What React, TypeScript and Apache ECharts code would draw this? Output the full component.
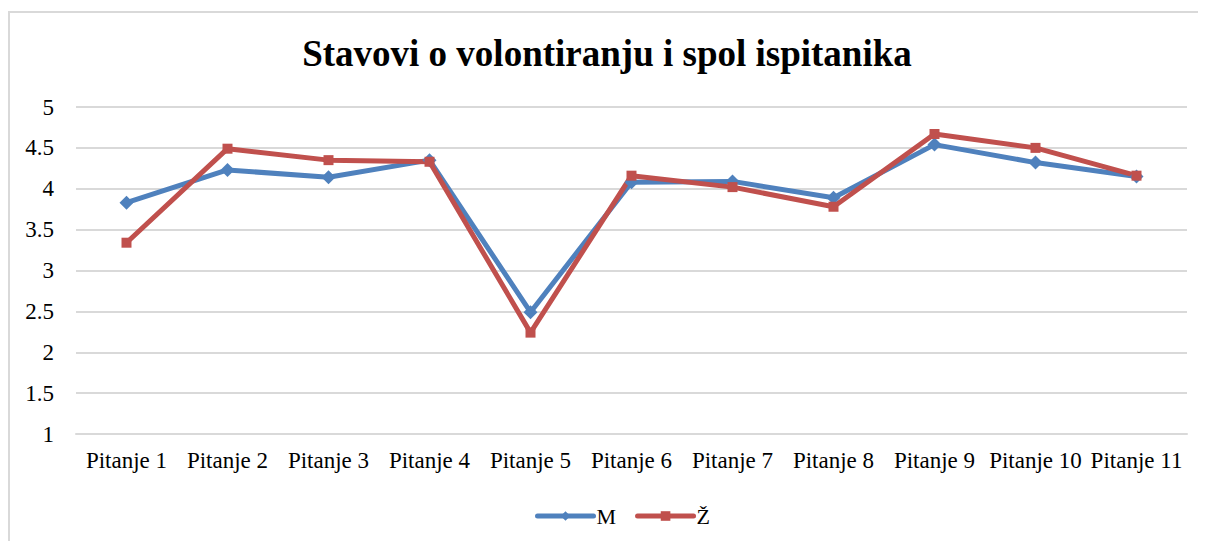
import React, { useEffect, useRef } from "react";
import * as echarts from "echarts";

const categories = [
  "Pitanje 1", "Pitanje 2", "Pitanje 3", "Pitanje 4", "Pitanje 5", "Pitanje 6",
  "Pitanje 7", "Pitanje 8", "Pitanje 9", "Pitanje 10", "Pitanje 11",
];
const seriesM = [3.83, 4.23, 4.14, 4.35, 2.49, 4.08, 4.09, 3.89, 4.54, 4.32, 4.15];
const seriesZ = [3.34, 4.49, 4.35, 4.33, 2.24, 4.16, 4.02, 3.78, 4.67, 4.5, 4.16];
const yTicks = [1, 1.5, 2, 2.5, 3, 3.5, 4, 4.5, 5];

const FONT = "Liberation Serif";

export default function App() {
  const ref = useRef<HTMLDivElement>(null);
  useEffect(() => {
    if (!ref.current) return;
    const chart = echarts.init(ref.current, undefined, { renderer: "svg" });
    chart.setOption({
      animation: false,
      backgroundColor: "#ffffff",
      textStyle: { fontFamily: FONT },
      title: {
        text: "Stavovi o volontiranju i spol ispitanika",
        left: "center",
        top: 22,
        textStyle: { fontFamily: FONT, fontSize: 37, fontWeight: "bold", color: "#000" },
      },
      graphic: [
        {
          type: "rect",
          shape: { x: 1, y: 4, width: 1400, height: 700 },
          style: { fill: "none", stroke: "#D9D9D9", lineWidth: 2 },
          silent: true,
        },
      ],
      grid: { left: 68, right: 19, top: 99, bottom: 107, containLabel: false },
      legend: {
        bottom: 9,
        left: 522,
        itemWidth: 56,
        itemHeight: 12,
        itemGap: 19,
        lineStyle: { width: 5, cap: "round" },
        textStyle: { fontFamily: FONT, fontSize: 22, color: "#000", padding: [0, 0, 0, -2] },
        data: ["M", "Ž"],
      },
      xAxis: {
        type: "category",
        data: categories,
        boundaryGap: true,
        axisLine: { show: true, lineStyle: { color: "#D9D9D9", width: 2 } },
        axisTick: { show: false },
        axisLabel: { fontFamily: FONT, fontSize: 23, color: "#000", margin: 15, interval: 0 },
      },
      yAxis: {
        type: "value",
        min: yTicks[0],
        max: yTicks[yTicks.length - 1],
        interval: 0.5,
        axisLine: { show: false },
        axisTick: { show: false },
        splitLine: { lineStyle: { color: "#D9D9D9", width: 2 } },
        axisLabel: { fontFamily: FONT, fontSize: 23, color: "#000", margin: 22 },
      },
      series: [
        {
          name: "M",
          type: "line",
          data: seriesM,
          symbol: "diamond",
          symbolSize: 14,
          lineStyle: { color: "#4F81BD", width: 5 },
          itemStyle: { color: "#4F81BD" },
        },
        {
          name: "Ž",
          type: "line",
          data: seriesZ,
          symbol: "rect",
          symbolSize: 10,
          lineStyle: { color: "#C0504D", width: 5 },
          itemStyle: { color: "#C0504D" },
        },
      ],
    });
    return () => chart.dispose();
  }, []);
  return <div ref={ref} style={{ width: 1198, height: 533 }} />;
}
